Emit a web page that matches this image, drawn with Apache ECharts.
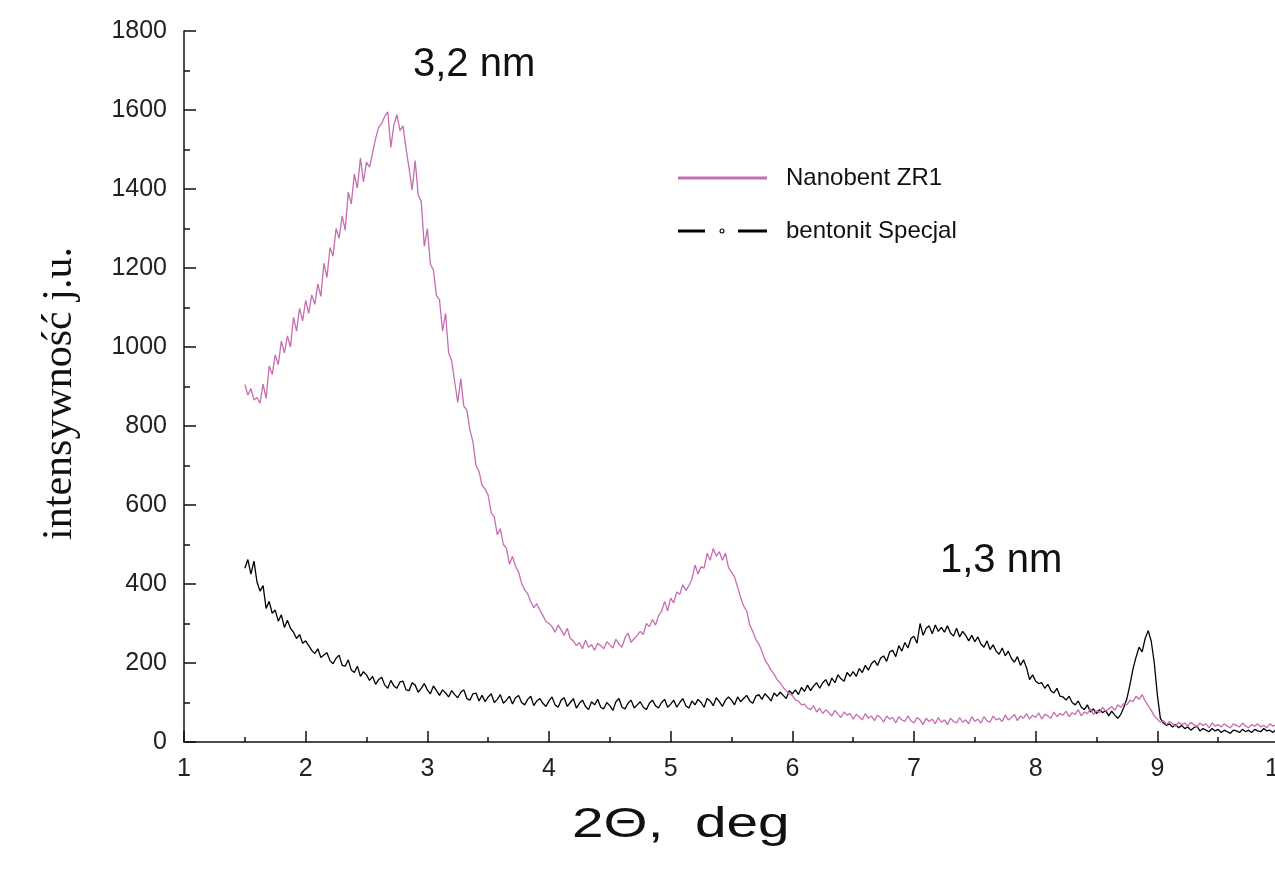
<!DOCTYPE html>
<html>
<head>
<meta charset="utf-8">
<title>XRD</title>
<script src="https://cdn.jsdelivr.net/npm/echarts@6/dist/echarts.min.js"></script>
<style>
  html, body { margin: 0; padding: 0; background: #ffffff; }
  #chart { width: 1275px; height: 888px; }
</style>
</head>
<body>
<div id="chart"></div>
<script>
// Diffraction scans, 2-theta from 1.5 deg in steps of 0.025 deg
const scanStart = 1.5;
const scanStep = 0.025;

const seriesNames = ['Nanobent ZR1', 'bentonit Specjal'];

// Nanobent ZR1 intensity (a.u.)
const nanobent = [
  905, 878, 895, 866, 872, 858, 906, 870, 952, 930,
  980, 955, 1015, 985, 1028, 1000, 1075, 1040, 1098, 1066,
  1118, 1085, 1132, 1108, 1160, 1128, 1212, 1176, 1252, 1230,
  1300, 1275, 1332, 1296, 1392, 1362, 1438, 1402, 1478, 1418,
  1468, 1455, 1492, 1528, 1556, 1566, 1584, 1595, 1505, 1562,
  1588, 1548, 1560, 1502, 1452, 1398, 1472, 1385, 1368, 1255,
  1300, 1210, 1195, 1130, 1120, 1040, 1085, 985, 965, 912,
  860, 920, 850, 840, 790, 760, 700, 685, 650, 640,
  625, 580, 570, 525, 540, 500, 490, 450, 470, 445,
  430, 402, 385, 375, 355, 340, 350, 334, 320, 305,
  300, 292, 278, 296, 284, 270, 288, 262, 256, 244,
  252, 236, 258, 240, 246, 232, 250, 244, 236, 254,
  246, 238, 260, 248, 240, 264, 276, 252, 262, 270,
  280, 272, 300, 292, 310, 296, 320, 330, 356, 332,
  364, 352, 380, 374, 398, 384, 396, 412, 448, 426,
  444, 440, 478, 460, 490, 470, 482, 460, 478, 442,
  430, 418, 392, 366, 344, 332, 296, 280, 260, 248,
  230, 208, 196, 182, 172, 158, 150, 138, 130, 122,
  118, 106, 104, 94, 96, 86, 82, 92, 76, 86,
  72, 82, 74, 66, 80, 70, 62, 76, 68, 72,
  58, 70, 64, 56, 72, 60, 66, 54, 68, 62,
  50, 66, 58, 62, 48, 64, 56, 52, 66, 54,
  48, 62, 56, 44, 60, 52, 58, 46, 62, 50,
  56, 44, 60, 52, 48, 62, 50, 56, 46, 64,
  52, 58, 48, 64, 54, 50, 66, 56, 60, 52,
  68, 56, 62, 70, 54, 66, 60, 72, 58, 68,
  62, 74, 58, 70, 66, 60, 76, 64, 72, 68,
  78, 64, 74, 70, 82, 66, 76, 72, 84, 70,
  80, 74, 88, 78, 84, 90, 80, 94, 88, 98,
  94, 106, 102, 116, 108, 120, 104, 92, 80, 66,
  58, 50, 54, 44, 52, 46, 40, 50, 44, 48,
  40, 50, 44, 38, 48, 42, 46, 36, 48, 40,
  44, 38, 46, 40, 36, 46, 42, 38, 48, 40,
  36, 44, 40, 46, 38, 42, 36, 46, 40, 44,
  40
];

// bentonit Specjal intensity (a.u.)
const bentonit = [
  440, 462, 425, 458, 405, 382, 396, 338, 356, 326,
  334, 306, 322, 290, 308, 288, 278, 262, 272, 250,
  256, 244, 232, 224, 236, 214, 220, 226, 206, 198,
  212, 220, 194, 192, 208, 182, 176, 192, 166, 178,
  170, 156, 166, 146, 158, 164, 144, 136, 156, 142,
  136, 152, 154, 132, 130, 150, 144, 126, 136, 148,
  132, 122, 142, 130, 118, 132, 124, 114, 130, 120,
  112, 126, 132, 110, 106, 122, 124, 104, 118, 102,
  114, 122, 100, 108, 120, 98, 106, 116, 96, 112,
  118, 100, 94, 108, 116, 92, 104, 110, 98, 90,
  104, 114, 94, 88, 106, 112, 90, 100, 110, 86,
  98, 106, 90, 82, 102, 94, 108, 88, 84, 100,
  92, 80, 102, 110, 88, 84, 98, 106, 86, 94,
  102, 88, 82, 98, 106, 92, 86, 100, 108, 88,
  96, 106, 88, 100, 110, 92, 86, 104, 94, 108,
  100, 88, 110, 104, 92, 112, 102, 90, 106, 114,
  106, 94, 114, 102, 110, 118, 104, 98, 116, 120,
  108, 122, 114, 104, 124, 116, 126, 118, 110, 130,
  122, 132, 120, 138, 128, 144, 130, 142, 150, 136,
  150, 158, 142, 162, 150, 170, 160, 154, 176, 166,
  178, 166, 186, 176, 194, 182, 198, 206, 194, 212,
  218, 204, 228, 232, 216, 244, 230, 252, 238, 262,
  268, 250, 300, 270, 288, 294, 274, 296, 280, 290,
  278, 294, 276, 268, 288, 266, 280, 270, 256, 270,
  254, 266, 248, 240, 256, 234, 246, 230, 222, 238,
  218, 230, 212, 202, 216, 194, 208, 188, 158, 170,
  154, 148, 150, 136, 146, 130, 124, 136, 116, 114,
  106, 116, 100, 94, 104, 88, 82, 94, 76, 84,
  72, 82, 74, 80, 66, 78, 68, 60, 70, 88,
  110, 145, 185, 215, 240, 228, 262, 282, 255, 200,
  120, 60, 48, 42, 46, 38, 44, 36, 42, 34,
  38, 30, 36, 40, 28, 34, 30, 26, 34, 28,
  32, 24, 30, 26, 22, 30, 28, 24, 32, 26,
  30, 24, 32, 28, 26, 34, 28, 30, 24, 32,
  30
];

// Axis ticks
const xTicks = { min: 1, max: 10, step: 1 };
const yTicks = { min: 0, max: 1800, step: 200 };

// Axis titles and peak annotations
const xTitle = '2\u0398,  deg';
const yTitle = 'intensywność j.u.';
const peakNotes = ['3,2 nm', '1,3 nm'];

function toPairs(values) {
  return values.map((v, i) => [+(scanStart + i * scanStep).toFixed(3), v]);
}

const FONT = '"Liberation Sans", Arial, sans-serif';
const AXIS_COLOR = '#111111';
const PINK = '#c66db3';

const chart = echarts.init(document.getElementById('chart'), null, { renderer: 'canvas' });

chart.setOption({
  animation: false,
  backgroundColor: '#ffffff',
  grid: {
    left: 184,
    right: -4,
    top: 31,
    bottom: 146,
    containLabel: false,
    outerBoundsMode: 'none'
  },
  legend: {
    orient: 'vertical',
    left: 673,
    top: 161,
    itemWidth: 89,
    itemHeight: 8,
    itemGap: 29,
    selectedMode: false,
    textStyle: {
      fontFamily: FONT,
      fontSize: 24,
      color: '#111111',
      padding: [0, 0, 0, 14]
    },
    data: [
      { name: seriesNames[0], icon: 'path://M0,0H89V3H0Z' },
      {
        name: seriesNames[1],
        icon: 'path://M0,2.5H27V5.5H0Z M60,2.5H89V5.5H60Z M41.5,4A2.5,2.5,0,1,0,46.5,4A2.5,2.5,0,1,0,41.5,4Z M42.6,4A1.4,1.4,0,1,1,45.4,4A1.4,1.4,0,1,1,42.6,4Z'
      }
    ]
  },
  xAxis: {
    type: 'value',
    min: xTicks.min,
    max: xTicks.max,
    interval: xTicks.step,
    axisLine: { show: true, onZero: false, lineStyle: { color: AXIS_COLOR, width: 1.5 } },
    axisTick: { show: true, inside: true, length: 11, lineStyle: { color: AXIS_COLOR, width: 1.5 } },
    minorTick: { show: true, splitNumber: 2, length: 5, lineStyle: { color: AXIS_COLOR, width: 1.5 } },
    axisLabel: {
      fontFamily: FONT,
      fontSize: 25,
      color: '#222222',
      margin: 15,
      formatter: (v) => String(v)
    },
    splitLine: { show: false },
    minorSplitLine: { show: false }
  },
  yAxis: {
    type: 'value',
    min: yTicks.min,
    max: yTicks.max,
    interval: yTicks.step,
    name: yTitle,
    nameLocation: 'middle',
    nameGap: 103,
    nameRotate: 90,
    nameTextStyle: {
      fontFamily: '"Liberation Serif", "Times New Roman", serif',
      fontSize: 42,
      color: '#111111',
      padding: [0, 14, 0, 0]
    },
    axisLine: { show: true, lineStyle: { color: AXIS_COLOR, width: 1.5 } },
    axisTick: { show: true, inside: true, length: 12, lineStyle: { color: AXIS_COLOR, width: 1.5 } },
    minorTick: { show: true, splitNumber: 2, length: 6, lineStyle: { color: AXIS_COLOR, width: 1.5 } },
    axisLabel: {
      fontFamily: FONT,
      fontSize: 25,
      color: '#222222',
      margin: 17,
      formatter: (v) => String(v)
    },
    splitLine: { show: false },
    minorSplitLine: { show: false }
  },
  series: [
    {
      name: seriesNames[1],
      type: 'line',
      data: toPairs(bentonit),
      showSymbol: false,
      symbol: 'none',
      color: '#000000',
      lineStyle: { color: '#000000', width: 1.3 },
      z: 2
    },
    {
      name: seriesNames[0],
      type: 'line',
      data: toPairs(nanobent),
      showSymbol: false,
      symbol: 'none',
      color: PINK,
      lineStyle: { color: PINK, width: 1.3 },
      z: 3
    }
  ],
  graphic: [
    {
      // x-axis title, set in a wide face
      type: 'text',
      x: 572,
      y: 804,
      scaleX: 1.35,
      style: {
        text: xTitle,
        font: '42px ' + FONT,
        fill: '#111111',
        textAlign: 'left',
        textVerticalAlign: 'top'
      }
    },
    {
      type: 'text',
      left: 413,
      top: 45,
      style: { text: peakNotes[0], font: '40px ' + FONT, fill: '#111111' }
    },
    {
      type: 'text',
      left: 940,
      top: 541,
      style: { text: peakNotes[1], font: '40px ' + FONT, fill: '#111111' }
    }
  ]
});
</script>
</body>
</html>
